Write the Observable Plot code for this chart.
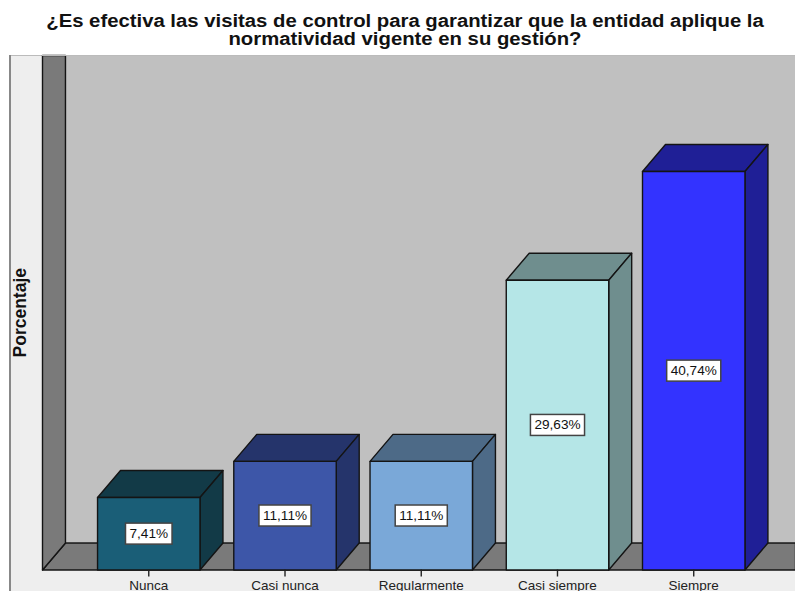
<!DOCTYPE html>
<html lang="es">
<head>
<meta charset="utf-8">
<script src="https://cdn.jsdelivr.net/npm/d3@7"></script>
<script src="https://cdn.jsdelivr.net/npm/@observablehq/plot@0.6"></script>
<style>
html,body{margin:0;padding:0;background:#fff;width:795px;height:591px;overflow:hidden;font-family:"Liberation Sans",Arial,sans-serif}
#title{position:absolute;left:10px;width:790px;top:13px;text-align:center;font-weight:bold;font-size:17.5px;line-height:17.5px;color:#111;transform:scaleX(1.16);transform-origin:395px 0}
#frame{position:absolute;left:10px;top:55px;width:785px;height:536px;background:#eee;box-shadow:-1px 0 0 #888, inset 1px 0 0 #888, inset 0 1px 0 #bbb}
svg{display:block}
</style>
</head>
<body>
<div id="title">¿Es efectiva las visitas de control para garantizar que la entidad aplique la<br>normatividad vigente en su gestión?</div>
<div id="frame"></div>
<script>
const categories = ["Nunca", "Casi nunca", "Regularmente", "Casi siempre", "Siempre"];
const values = [7.41, 11.11, 11.11, 29.63, 40.74];
const labels = ["7,41%", "11,11%", "11,11%", "29,63%", "40,74%"];
const frontColors = ["#1a5e77", "#3d56a8", "#7aa8d8", "#b5e6e7", "#3333ff"];
const sideColors = ["#123a47", "#25346b", "#4d6a87", "#6f8e8e", "#1f1f96"];

// Scale extents and 3D depth, in data units
const xMin = -0.78, xMax = 4.747, yMax = 52.6;
const halfBar = 0.376, depthX = 0.1686, depthY = 2.76;
const slots = categories.map((_, i) => i);

const shell = [
  {id: "floor", color: "#7a7a7a", pts: [[xMin, 0], [xMin + depthX, depthY], [xMax, depthY], [xMax, 0], [xMin, 0]]},
  {id: "wall", color: "#7a7a7a", pts: [[xMin, yMax], [xMin + depthX, yMax], [xMin + depthX, depthY], [xMin, 0], [xMin, yMax]]}
];
const faces = slots.flatMap(i => {
  const a = i - halfBar, b = i + halfBar, v = values[i];
  return [
    {id: `top${i}`, color: sideColors[i], pts: [[a, v], [a + depthX, v + depthY], [b + depthX, v + depthY], [b, v], [a, v]]},
    {id: `side${i}`, color: sideColors[i], pts: [[b, 0], [b + depthX, depthY], [b + depthX, v + depthY], [b, v], [b, 0]]},
    {id: `front${i}`, color: frontColors[i], pts: [[a, 0], [b, 0], [b, v], [a, v], [a, 0]]}
  ];
});
const toRows = polys => polys.flatMap(p => p.pts.map(([x, y]) => ({id: p.id, color: p.color, x, y})));
const poly = polys => Plot.line(toRows(polys), {x: "x", y: "y", z: "id", fill: "color", stroke: "#141414", strokeWidth: 1.4});

const chart = Plot.plot({
  width: 785, height: 536,
  marginLeft: 32, marginRight: 0, marginTop: 0, marginBottom: 21.5,
  style: {background: "transparent", fontFamily: "'Liberation Sans', Arial, sans-serif", overflow: "visible"},
  x: {domain: [xMin, xMax]},
  y: {domain: [0, yMax]},
  color: {type: "identity"},
  marks: [
    Plot.rect([0], {x1: xMin + depthX, x2: xMax, y1: depthY, y2: yMax, fill: "#c0c0c0"}),
    poly(shell),
    Plot.ruleY([yMax], {x1: xMin, x2: xMax, stroke: "#bbb"}),
    poly(faces),
    Plot.text(slots, {
      x: i => i, y: i => values[i] / 2, text: i => labels[i],
      fontSize: 13.6, fill: "#111", className: "value-label"
    }),
    Plot.axisX({ticks: slots, tickFormat: i => categories[i], tickSize: 7, tickPadding: 3, fontSize: 13.5, label: null, stroke: "#222", strokeWidth: 1.4, color: "#222"}),
    Plot.axisY({ticks: [], label: null}),
    Plot.text(["Porcentaje"], {
      frameAnchor: "left", textAnchor: "middle", dx: -22, rotate: -90, fontSize: 17.5, fontWeight: "bold", fill: "#111"
    })
  ]
});
document.getElementById("frame").appendChild(chart);

// White boxes behind the value labels, sized from the rendered text
chart.querySelectorAll(".value-label text").forEach(t => {
  const b = t.getBBox();
  const r = document.createElementNS("http://www.w3.org/2000/svg", "rect");
  r.setAttribute("x", b.x - 4);
  r.setAttribute("y", b.y - 3);
  r.setAttribute("width", b.width + 8);
  r.setAttribute("height", b.height + 6);
  r.setAttribute("fill", "#fff");
  r.setAttribute("stroke", "#444");
  r.setAttribute("stroke-width", 1.5);
  r.setAttribute("transform", t.getAttribute("transform") || "");
  t.parentNode.insertBefore(r, t);
});
</script>
</body>
</html>
